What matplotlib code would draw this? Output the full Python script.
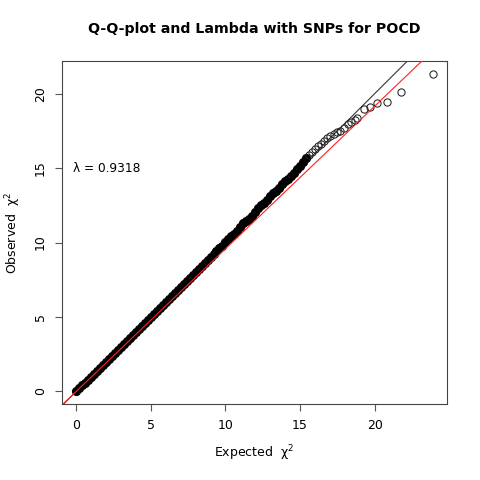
import matplotlib
matplotlib.use("Agg")
import matplotlib.pyplot as plt

plt.rcParams.update({
    "font.family": "DejaVu Sans", "font.size": 9,
    "axes.edgecolor": "#444444", "axes.linewidth": 0.8,
})

# dense body of the Q-Q cloud (expected vs observed chi-square)
body_expected = [0.0, 0.2, 0.4, 0.6, 0.8, 1.0, 1.2, 1.4, 1.6, 1.8,
                 2.0, 2.2, 2.4, 2.6, 2.8, 3.0, 3.2, 3.4, 3.6, 3.8,
                 4.0, 4.2, 4.4, 4.6, 4.8, 5.0, 5.2, 5.4, 5.6, 5.8,
                 6.0, 6.2, 6.4, 6.6, 6.8, 7.0, 7.2, 7.4, 7.6, 7.8,
                 8.0, 8.2, 8.4, 8.6, 8.8, 9.0, 9.2, 9.4, 9.6, 9.8,
                 10.0, 10.2, 10.4, 10.6, 10.8, 11.0, 11.2, 11.4, 11.6, 11.8,
                 12.0, 12.2, 12.4, 12.6, 12.8, 13.0, 13.2, 13.4, 13.6, 13.8,
                 14.0, 14.2, 14.4, 14.6, 14.8, 15.0, 15.2, 15.4]
body_observed = [0.0, 0.2, 0.4, 0.6, 0.8, 1.0, 1.2, 1.4, 1.6, 1.8,
                 2.0, 2.2, 2.4, 2.6, 2.8, 3.0, 3.2, 3.4, 3.6, 3.8,
                 4.0, 4.2, 4.4, 4.6, 4.8, 5.0, 5.2, 5.4, 5.6, 5.8,
                 6.0, 6.2, 6.4, 6.6, 6.8, 7.0, 7.2, 7.4, 7.6, 7.8,
                 8.0, 8.2, 8.4, 8.6, 8.8, 9.0, 9.2, 9.4, 9.6, 9.8,
                 10.05, 10.25, 10.45, 10.6, 10.8, 11.05, 11.3, 11.45, 11.6, 11.8,
                 12.05, 12.3, 12.5, 12.65, 12.85, 13.1, 13.3, 13.45, 13.65, 13.9,
                 14.1, 14.3, 14.45, 14.7, 14.95, 15.15, 15.4, 15.65]

# sparse upper tail, individual circles
tail_expected = [15.6, 15.8, 16.0, 16.2, 16.4, 16.6, 16.8, 17.02, 17.25, 17.47,
                 17.69, 17.92, 18.18, 18.41, 18.65, 18.81, 19.26, 19.66, 20.17,
                 20.80, 21.76, 23.88]
tail_observed = [15.9, 16.1, 16.3, 16.5, 16.65, 16.85, 17.03, 17.18, 17.30, 17.43,
                 17.47, 17.70, 17.99, 18.08, 18.26, 18.38, 18.98, 19.12, 19.39,
                 19.45, 20.13, 21.34]

lam = 0.9318
red_slope = 0.958

fig = plt.figure(figsize=(4.8, 4.8), dpi=100)
ax = fig.add_axes([0.129, 0.158, 0.802, 0.715])

ax.axline((0, 0), slope=1, color="#333333", linewidth=0.8, zorder=1)
ax.plot(body_expected, body_observed, linestyle="none", marker="o",
        markersize=5.8, markerfacecolor="black", markeredgecolor="black",
        markeredgewidth=0.8, zorder=2)
ax.plot(tail_expected, tail_observed, linestyle="none", marker="o",
        markersize=5.2, markerfacecolor="none", markeredgecolor="#222222",
        markeredgewidth=0.75, zorder=2)
ax.axline((0, 0), slope=red_slope, color="#ff2020", linewidth=0.8, zorder=3)

xmax = max(tail_expected)
ymax = max(tail_observed)
ax.set_xlim(-0.04 * xmax, 1.04 * xmax)
ax.set_ylim(-0.04 * ymax, 1.04 * ymax)
ax.set_xticks([0, 5, 10, 15, 20])
ax.set_yticks([0, 5, 10, 15, 20])
ax.tick_params(direction="out", length=5, width=0.8, color="#555555",
               labelsize=9, pad=6)
for lbl in ax.get_yticklabels():
    lbl.set_rotation(90)
    lbl.set_va("center")

ax.text(-0.2, 15.0, f"λ = {lam:.4f}", ha="left", va="center", fontsize=8.7)

ax.set_xlabel("Expected  χ$^2$", fontsize=9, labelpad=8)
ax.set_ylabel("Observed  χ$^2$", fontsize=9, labelpad=8)
ax.set_title("Q-Q-plot and Lambda with SNPs for POCD", fontsize=10.2,
             fontweight="bold", pad=20)

fig.savefig("out.png", dpi=100)
